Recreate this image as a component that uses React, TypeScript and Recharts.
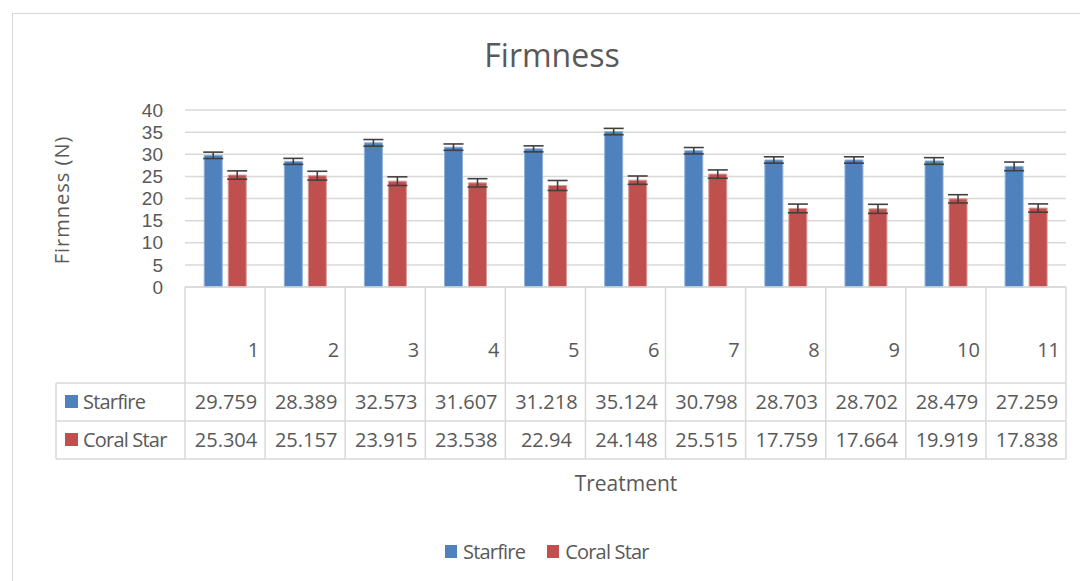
import React from 'react';
import { BarChart, Bar, XAxis, YAxis, CartesianGrid, ErrorBar, Legend } from 'recharts';

const treatments = ['1', '2', '3', '4', '5', '6', '7', '8', '9', '10', '11'];
const starfire = [29.759, 28.389, 32.573, 31.607, 31.218, 35.124, 30.798, 28.703, 28.702, 28.479, 27.259];
const coralStar = [25.304, 25.157, 23.915, 23.538, 22.94, 24.148, 25.515, 17.759, 17.664, 19.919, 17.838];
const starfireErr = [0.72, 0.68, 0.75, 0.72, 0.68, 0.72, 0.72, 0.72, 0.72, 0.75, 0.98];
const coralStarErr = [0.94, 1.0, 0.98, 0.94, 1.13, 0.94, 0.94, 0.98, 1.02, 0.94, 0.94];
const yTicks = [0, 5, 10, 15, 20, 25, 30, 35, 40];
const seriesNames = ['Starfire', 'Coral Star'];
const seriesColors = ['#4F81BD', '#C0504D'];

const data = treatments.map((t, i) => ({
  treatment: t,
  starfire: starfire[i],
  coralStar: coralStar[i],
  starfireErr: starfireErr[i],
  coralStarErr: coralStarErr[i],
}));

const FONT = '"Open Sans", "Noto Sans", sans-serif';
const TICK_FONT = '"Liberation Sans", Arial, sans-serif';
const TEXT = '#595959';
const LINE = '#d9d9d9';

const LABEL_ROW = 96;
const ROW_H = 38;
const TABLE_LEFT = 56;

const TableTick = (props: any) => {
  const { x, y, payload, index } = props;
  const half = typeof payload?.offset === 'number' && payload.offset > 0 ? payload.offset : 40.05;
  const i = typeof index === 'number' ? index : treatments.indexOf(String(payload.value));
  const left = x - half;
  const right = x + half;
  const r1 = y + LABEL_ROW;
  const r2 = r1 + ROW_H;
  const r3 = r2 + ROW_H;
  const sw = 1.5;
  return (
    <g>
      <line x1={left} x2={right} y1={y} y2={y} stroke={LINE} strokeWidth={sw} />
      <line x1={left} x2={right} y1={r1} y2={r1} stroke={LINE} strokeWidth={sw} />
      <line x1={left} x2={right} y1={r2} y2={r2} stroke={LINE} strokeWidth={sw} />
      <line x1={left} x2={right} y1={r3} y2={r3} stroke={LINE} strokeWidth={sw} />
      <line x1={right} x2={right} y1={y} y2={r3} stroke={LINE} strokeWidth={sw} />
      {i === 0 && (
        <g>
          <line x1={left} x2={left} y1={y} y2={r3} stroke={LINE} strokeWidth={sw} />
          <line x1={TABLE_LEFT} x2={left} y1={r1} y2={r1} stroke={LINE} strokeWidth={sw} />
          <line x1={TABLE_LEFT} x2={left} y1={r2} y2={r2} stroke={LINE} strokeWidth={sw} />
          <line x1={TABLE_LEFT} x2={left} y1={r3} y2={r3} stroke={LINE} strokeWidth={sw} />
          <line x1={TABLE_LEFT} x2={TABLE_LEFT} y1={r1} y2={r3} stroke={LINE} strokeWidth={sw} />
          <rect x={TABLE_LEFT + 9} y={r1 + 12} width={13} height={13} fill={seriesColors[0]} />
          <text x={TABLE_LEFT + 27} y={r1 + 26} fontSize={20} fill={TEXT} fontFamily={FONT} letterSpacing={-0.8}>
            {seriesNames[0]}
          </text>
          <rect x={TABLE_LEFT + 9} y={r2 + 12} width={13} height={13} fill={seriesColors[1]} />
          <text x={TABLE_LEFT + 27} y={r2 + 26} fontSize={20} fill={TEXT} fontFamily={FONT} letterSpacing={-0.8}>
            {seriesNames[1]}
          </text>
        </g>
      )}
      <text x={right - 6} y={y + 70} textAnchor="end" fontSize={20} fill={TEXT} fontFamily={FONT}>
        {treatments[i]}
      </text>
      <text x={x + 1} y={r1 + 26} textAnchor="middle" fontSize={20} fill={TEXT} fontFamily={FONT}>
        {String(starfire[i])}
      </text>
      <text x={x + 1} y={r2 + 26} textAnchor="middle" fontSize={20} fill={TEXT} fontFamily={FONT}>
        {String(coralStar[i])}
      </text>
    </g>
  );
};

const LegendContent = (props: any) => {
  const payload = [...(props.payload || [])].sort(
    (a: any, b: any) => seriesNames.indexOf(a.value) - seriesNames.indexOf(b.value)
  );
  return (
    <div style={{ display: 'flex', alignItems: 'center', fontFamily: FONT, fontSize: 20, color: TEXT, letterSpacing: -0.8 }}>
      {payload.map((p: any, k: number) => (
        <div key={k} style={{ display: 'flex', alignItems: 'center', marginRight: 22 }}>
          <span style={{ display: 'inline-block', width: 12, height: 13, background: p.color, marginRight: 6 }} />
          <span>{p.value}</span>
        </div>
      ))}
    </div>
  );
};

export default function App() {
  return (
    <div style={{ position: 'absolute', left: 0, top: 0, width: 1080, height: 581, background: '#fff', overflow: 'hidden' }}>
      <div
        style={{
          position: 'absolute',
          left: 12,
          top: 13,
          width: 1100,
          height: 600,
          border: `1.5px solid ${LINE}`,
          boxSizing: 'border-box',
        }}
      />
      <div
        style={{
          position: 'absolute',
          left: 0,
          top: 36,
          width: 1104,
          textAlign: 'center',
          fontFamily: FONT,
          fontSize: 32,
          color: TEXT,
          lineHeight: '38px',
        }}
      >
        Firmness
      </div>
      <div
        style={{
          position: 'absolute',
          left: 62,
          top: 200,
          transform: 'translate(-50%, -50%) rotate(-90deg)',
          fontFamily: FONT,
          fontSize: 20,
          color: TEXT,
          whiteSpace: 'nowrap',
          letterSpacing: 1,
          lineHeight: '24px',
        }}
      >
        Firmness (N)
      </div>
      <div
        style={{
          position: 'absolute',
          left: 626,
          top: 483,
          transform: 'translate(-50%, -50%)',
          fontFamily: FONT,
          fontSize: 21,
          color: TEXT,
          whiteSpace: 'nowrap',
          lineHeight: '24px',
        }}
      >
        Treatment
      </div>
      <div style={{ position: 'absolute', left: 0, top: 0 }}>
        <BarChart
          width={1080}
          height={581}
          data={data}
          margin={{ top: 110, right: 14, bottom: 264, left: 0 }}
          barCategoryGap="24%"
          barGap={6}
        >
          <CartesianGrid vertical={false} stroke={LINE} strokeWidth={1.5} />
          <XAxis
            dataKey="treatment"
            height={30}
            axisLine={false}
            tickLine={false}
            tickSize={0}
            tickMargin={0}
            interval={0}
            tick={(p: any) => <TableTick {...p} />}
          />
          <YAxis
            width={185}
            domain={[0, 40]}
            ticks={yTicks}
            interval={0}
            axisLine={false}
            tickLine={false}
            tickSize={0}
            tickMargin={22}
            tick={{ fontSize: 19, fill: TEXT, fontFamily: TICK_FONT }}
          />
          <Legend
            layout="horizontal"
            verticalAlign="middle"
            align="center"
            itemSorter={null as any}
            wrapperStyle={{ position: 'absolute', top: 538, left: 445, width: 300, height: 26 }}
            content={(p: any) => <LegendContent {...p} />}
          />
          <Bar
            dataKey="starfire"
            name={seriesNames[0]}
            fill={seriesColors[0]}
            stroke="#8fb0da"
            strokeWidth={1}
            isAnimationActive={false}
          >
            <ErrorBar dataKey="starfireErr" width={10} stroke="#404040" strokeWidth={1.6} />
          </Bar>
          <Bar
            dataKey="coralStar"
            name={seriesNames[1]}
            fill={seriesColors[1]}
            stroke="#dc9a98"
            strokeWidth={1}
            isAnimationActive={false}
          >
            <ErrorBar dataKey="coralStarErr" width={10} stroke="#404040" strokeWidth={1.6} />
          </Bar>
        </BarChart>
      </div>
    </div>
  );
}
